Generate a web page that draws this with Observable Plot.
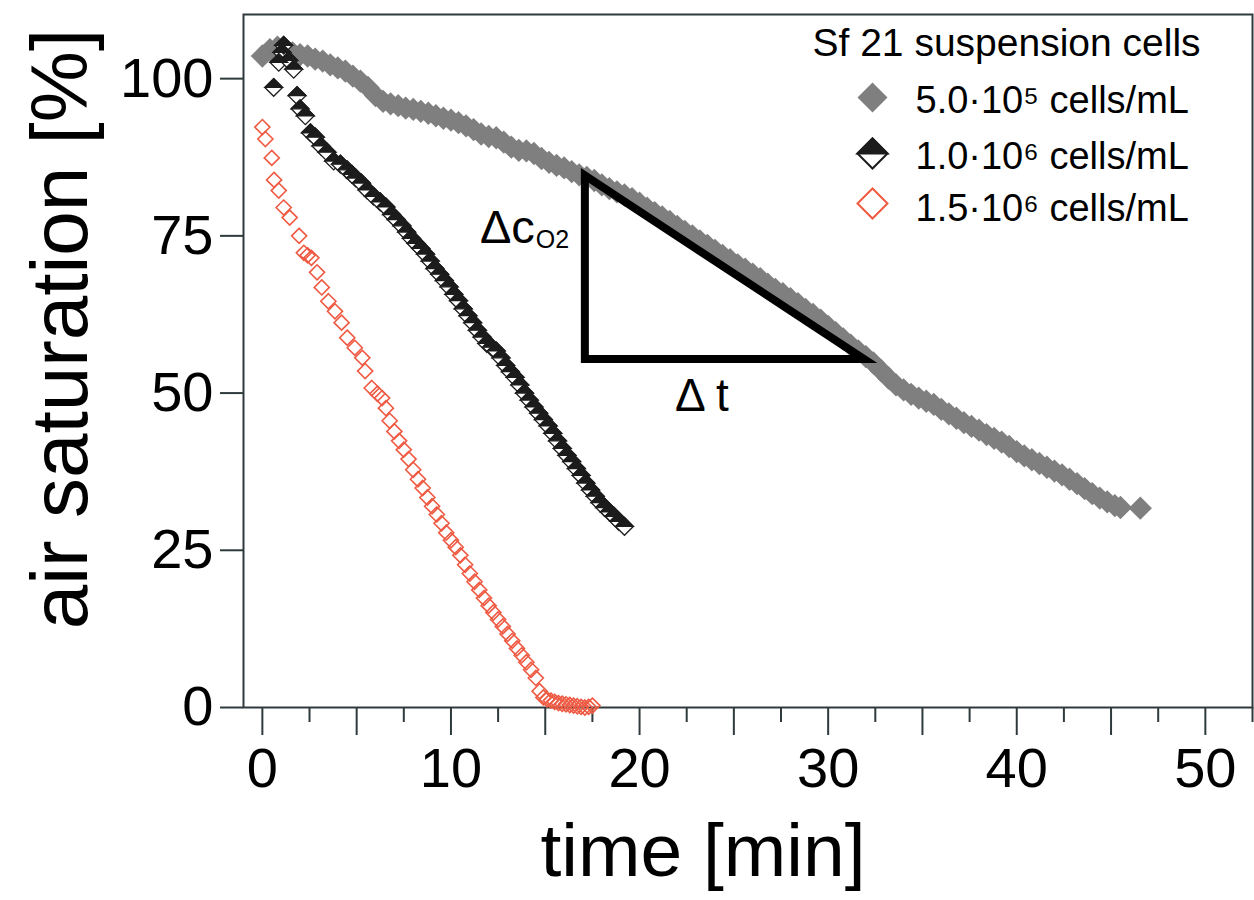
<!DOCTYPE html>
<html><head><meta charset="utf-8">
<script src="https://cdn.jsdelivr.net/npm/d3@7"></script>
<script src="https://cdn.jsdelivr.net/npm/@observablehq/plot@0.6"></script>
<style>
html,body{margin:0;padding:0;background:#fff;}
#chart{width:1254px;height:900px;}
</style></head><body><div id="chart"></div>
<script>
// ---- data: [time (min), air saturation (%)] ----
const grayPoints = [
[0.0,103.6],[0.4,104.6],[0.8,105.0],[1.2,104.4],[1.6,104.1],[2.0,103.8],[2.4,103.6],[2.8,103.1],[3.2,102.8],[3.6,102.2],
[4.0,101.7],[4.4,101.2],[4.8,100.4],[5.2,99.6],[5.6,98.6],[6.0,97.3],[6.4,96.4],[6.8,96.0],[7.2,95.7],[7.6,95.3],
[8.0,95.1],[8.4,94.8],[8.8,94.5],[9.2,94.1],[9.6,93.7],[10.0,93.4],[10.4,93.0],[10.8,92.5],[11.2,91.9],[11.6,91.2],
[12.0,90.8],[12.4,90.6],[12.8,89.9],[13.2,89.1],[13.6,88.6],[14.0,88.5],[14.4,88.1],[14.8,87.3],[15.2,86.7],[15.6,86.2],
[16.0,85.8],[16.4,85.2],[16.8,84.7],[17.2,84.3],[17.6,83.8],[18.0,83.1],[18.4,82.5],[18.8,82.0],[19.2,81.5],[19.6,80.9],
[20.0,80.2],[20.4,79.4],[20.8,78.7],[21.2,78.0],[21.6,77.3],[22.0,76.5],[22.4,75.7],[22.8,75.0],[23.2,74.2],[23.6,73.5],
[24.0,72.7],[24.4,71.9],[24.8,71.2],[25.2,70.4],[25.6,69.7],[26.0,68.9],[26.4,68.2],[26.8,67.3],[27.2,66.5],[27.6,65.8],
[28.0,65.0],[28.4,64.2],[28.8,63.3],[29.2,62.5],[29.6,61.6],[30.0,60.6],[30.4,59.6],[30.8,58.6],[31.2,57.6],[31.6,56.7],
[32.0,55.8],[32.4,54.8],[32.8,53.6],[33.2,52.4],[33.6,51.3],[34.0,50.5],[34.4,49.8],[34.8,49.2],[35.2,48.7],[35.6,48.2],
[36.0,47.4],[36.4,46.7],[36.8,46.0],[37.2,45.3],[37.6,44.7],[38.0,44.1],[38.4,43.4],[38.8,42.8],[39.2,42.2],[39.6,41.5],
[40.0,40.7],[40.4,40.0],[40.8,39.4],[41.2,38.8],[41.6,38.2],[42.0,37.6],[42.4,37.0],[42.8,36.3],[43.2,35.6],[43.6,34.8],
[44.0,34.0],[44.4,33.3],[44.8,32.7],[45.2,32.1],[45.5,31.8],[46.55,31.7]
];
const blackPoints = [
[0.6,98.6],[0.87,102.6],[1.04,104.2],[1.13,105.3],[1.4,102.9],[1.66,101.5],[1.84,97.3],[2.0,95.2],[2.28,94.1],[2.55,91.4],
[2.81,90.7],[3.1,89.3],[3.43,88.3],[3.78,86.9],[4.14,86.4],[4.49,85.5],[4.75,84.8],[4.95,84.2],[5.25,83.4],[5.55,82.3],
[5.9,81.3],[6.25,80.4],[6.55,79.6],[6.85,78.4],[7.1,77.6],[7.4,76.6],[7.65,75.6],[7.9,74.6],[8.15,73.8],[8.4,73.0],
[8.65,72.1],[8.9,71.0],[9.15,69.8],[9.4,68.9],[9.65,67.9],[9.9,66.9],[10.15,65.7],[10.4,64.7],[10.65,63.4],[10.9,62.3],
[11.15,61.2],[11.4,60.0],[11.65,58.9],[11.9,57.9],[12.15,57.3],[12.4,56.7],[12.65,55.6],[12.9,54.4],[13.15,53.4],[13.4,52.5],
[13.65,51.3],[13.9,50.0],[14.15,48.9],[14.4,47.8],[14.65,46.8],[14.9,45.8],[15.15,44.8],[15.4,43.6],[15.65,42.4],[15.9,41.2],
[16.15,40.1],[16.4,39.1],[16.65,38.0],[16.9,36.9],[17.15,35.7],[17.4,34.6],[17.65,33.6],[17.9,32.6],[18.15,31.8],[18.4,31.1],
[18.65,30.4],[18.9,29.6],[19.2,28.8]
];
const redPoints = [
[0,92.3],[0.16,90.4],[0.5,87.4],[0.62,83.9],[0.87,82.2],[1.13,79.5],[1.45,77.9],[1.95,75.0],[2.2,72.3],[2.4,71.9],
[2.6,71.5],[2.9,69.2],[3.15,66.8],[3.5,64.6],[3.85,63.0],[4.2,61.2],[4.5,58.8],[4.9,57.2],[5.3,55.6],[5.45,53.5],
[5.8,50.8],[6.1,49.9],[6.35,49.2],[6.55,47.6],[6.75,45.6],[7.0,43.9],[7.25,42.4],[7.5,41.0],[7.75,39.5],[8.0,37.8],
[8.25,36.3],[8.5,34.9],[8.75,33.4],[9.0,32.0],[9.25,30.7],[9.5,29.3],[9.75,27.8],[10.0,26.6],[10.25,25.5],[10.5,24.2],
[10.75,22.7],[11.0,21.3],[11.25,20.0],[11.5,18.7],[11.75,17.4],[12.0,16.2],[12.25,15.1],[12.5,14.0],[12.75,12.9],[13.0,11.7],
[13.25,10.6],[13.5,9.4],[13.75,8.3],[14.0,7.2],[14.25,6.0],[14.5,4.7],[14.7,2.6],[14.9,1.6],[15.1,1.3],[15.3,1.1],
[15.5,0.9],[15.7,0.7],[15.9,0.6],[16.1,0.5],[16.3,0.4],[16.5,0.3],[16.7,0.2],[16.9,0.1],[17.1,0.0],[17.3,0.1],[17.5,0.3]
];
const seriesLabels = ["5.0·10\u2075 cells/mL", "1.0·10\u2076 cells/mL", "1.5·10\u2076 cells/mL"];
const legendTitle = "Sf 21 suspension cells";
const xLabel = "time [min]";
const yLabel = "air saturation [%]";
const xMajorTicks = [0, 10, 20, 30, 40, 50];
const xMidTicks = [5, 15, 25, 35, 45];
const xMinorTicks = [2.5, 7.5, 12.5, 17.5, 22.5, 27.5, 32.5, 37.5, 42.5, 47.5, 52.5];
const yTicks = [0, 25, 50, 75, 100];
// slope triangle (closed, last vertex repeated for a mitred corner)
const slopeTriangle = [[17.1,84.6],[17.1,55.4],[31.9,55.4],[17.1,84.6],[17.1,55.4]];
const deltaC = {x: 14.45, y: 73.9, text: "Δc"};
const deltaCSub = {x: 14.5, y: 73.1, text: "O2"};
const deltaT = {x: 23.3, y: 47.2, text: "Δ t"};

// ---- styling ----
const FONT = "'Liberation Sans', Arial, Helvetica, sans-serif";
const AXIS = "#2f3a3d";
const GRAY = "#7f7f7f";
const DARK = "#1c1c1c";
const RED = "#ef5a43";

const topHalf = {draw(ctx, size) {
  const r = Math.sqrt(size) * 0.62625;
  ctx.moveTo(-r, 0); ctx.lineTo(0, -r); ctx.lineTo(r, 0); ctx.closePath();
}};

const X = d => d[0], Y = d => d[1];
const one = [0];
const legendRows = [
  {dy: 83, tdy: 98},
  {dy: 139, tdy: 154},
  {dy: 189, tdy: 206}
];
const LX = 629, LTX = 672, LR = 13.5;

const chart = Plot.plot({
  width: 1254, height: 900,
  marginLeft: 243, marginRight: 2, marginTop: 14, marginBottom: 193,
  x: {domain: [-1, 52.5]},
  y: {domain: [0, 110.2]},
  style: {fontFamily: FONT, background: "white", overflow: "visible", color: "black"},
  marks: [
    // axes
    Plot.axisX({ticks: xMajorTicks.concat(xMidTicks), tickSize: 28, tickPadding: 12, fontSize: 56,
      tickFormat: d => xMajorTicks.includes(d) ? String(d) : "", stroke: AXIS, strokeWidth: 2, fill: "black", label: null}),
    Plot.axisX({ticks: xMinorTicks, tickSize: 15, tickFormat: () => "", stroke: AXIS, strokeWidth: 2, label: null}),
    Plot.axisY({ticks: yTicks, tickSize: 23, tickPadding: 7, fontSize: 56, stroke: AXIS, strokeWidth: 2, fill: "black", label: null}),
    Plot.frame({stroke: AXIS, strokeWidth: 2}),
    // axis titles
    Plot.text([xLabel], {frameAnchor: "bottom", dx: -45, dy: 168, lineAnchor: "bottom", textAnchor: "middle", fontSize: 75, fill: "black"}),
    Plot.text([yLabel], {frameAnchor: "left", dx: -157, dy: -32, rotate: -90, lineAnchor: "bottom", textAnchor: "middle", fontSize: 80, fill: "black"}),
    // 5.0e5 series
    Plot.dot(grayPoints, {x: X, y: Y, symbol: "diamond2", r: 10.5, fill: GRAY}),
    // slope triangle
    Plot.line(slopeTriangle, {x: X, y: Y, stroke: "black", strokeWidth: 8, strokeLinejoin: "miter", strokeMiterlimit: 10}),
    // 1.0e6 series (half filled)
    Plot.dot(blackPoints, {x: X, y: Y, symbol: "diamond2", r: 8, fill: "white", stroke: DARK, strokeWidth: 1.3}),
    Plot.dot(blackPoints, {x: X, y: Y, symbol: topHalf, r: 8, fill: DARK, stroke: DARK, strokeWidth: 1.3}),
    // 1.5e6 series
    Plot.dot(redPoints, {x: X, y: Y, symbol: "diamond2", r: 6.8, fill: "none", stroke: RED, strokeWidth: 1.6}),
    // annotations
    Plot.text([deltaC], {x: "x", y: "y", text: "text", textAnchor: "end", lineAnchor: "bottom", fontSize: 47, fill: "black"}),
    Plot.text([deltaCSub], {x: "x", y: "y", text: "text", textAnchor: "start", lineAnchor: "bottom", fontSize: 25, fill: "black"}),
    Plot.text([deltaT], {x: "x", y: "y", text: "text", textAnchor: "middle", lineAnchor: "bottom", fontSize: 46, fill: "black"}),
    // legend
    Plot.text([legendTitle], {frameAnchor: "top-left", dx: 569, dy: 41, lineAnchor: "bottom", textAnchor: "start", fontSize: 39, fill: "black"}),
    Plot.dot(one, {frameAnchor: "top-left", dx: LX, dy: legendRows[0].dy, symbol: "diamond2", r: LR, fill: GRAY}),
    Plot.dot(one, {frameAnchor: "top-left", dx: LX, dy: legendRows[1].dy, symbol: "diamond2", r: LR, fill: "white", stroke: DARK, strokeWidth: 2}),
    Plot.dot(one, {frameAnchor: "top-left", dx: LX, dy: legendRows[1].dy, symbol: topHalf, r: LR, fill: DARK, stroke: DARK, strokeWidth: 2}),
    Plot.dot(one, {frameAnchor: "top-left", dx: LX, dy: legendRows[2].dy, symbol: "diamond2", r: LR, fill: "none", stroke: RED, strokeWidth: 2}),
    ...seriesLabels.map((lab, i) => Plot.text([lab], {frameAnchor: "top-left", dx: LTX, dy: legendRows[i].tdy, lineAnchor: "bottom", textAnchor: "start", fontSize: 38, fill: "black"}))
  ]
});
document.getElementById("chart").appendChild(chart);
</script></body></html>
